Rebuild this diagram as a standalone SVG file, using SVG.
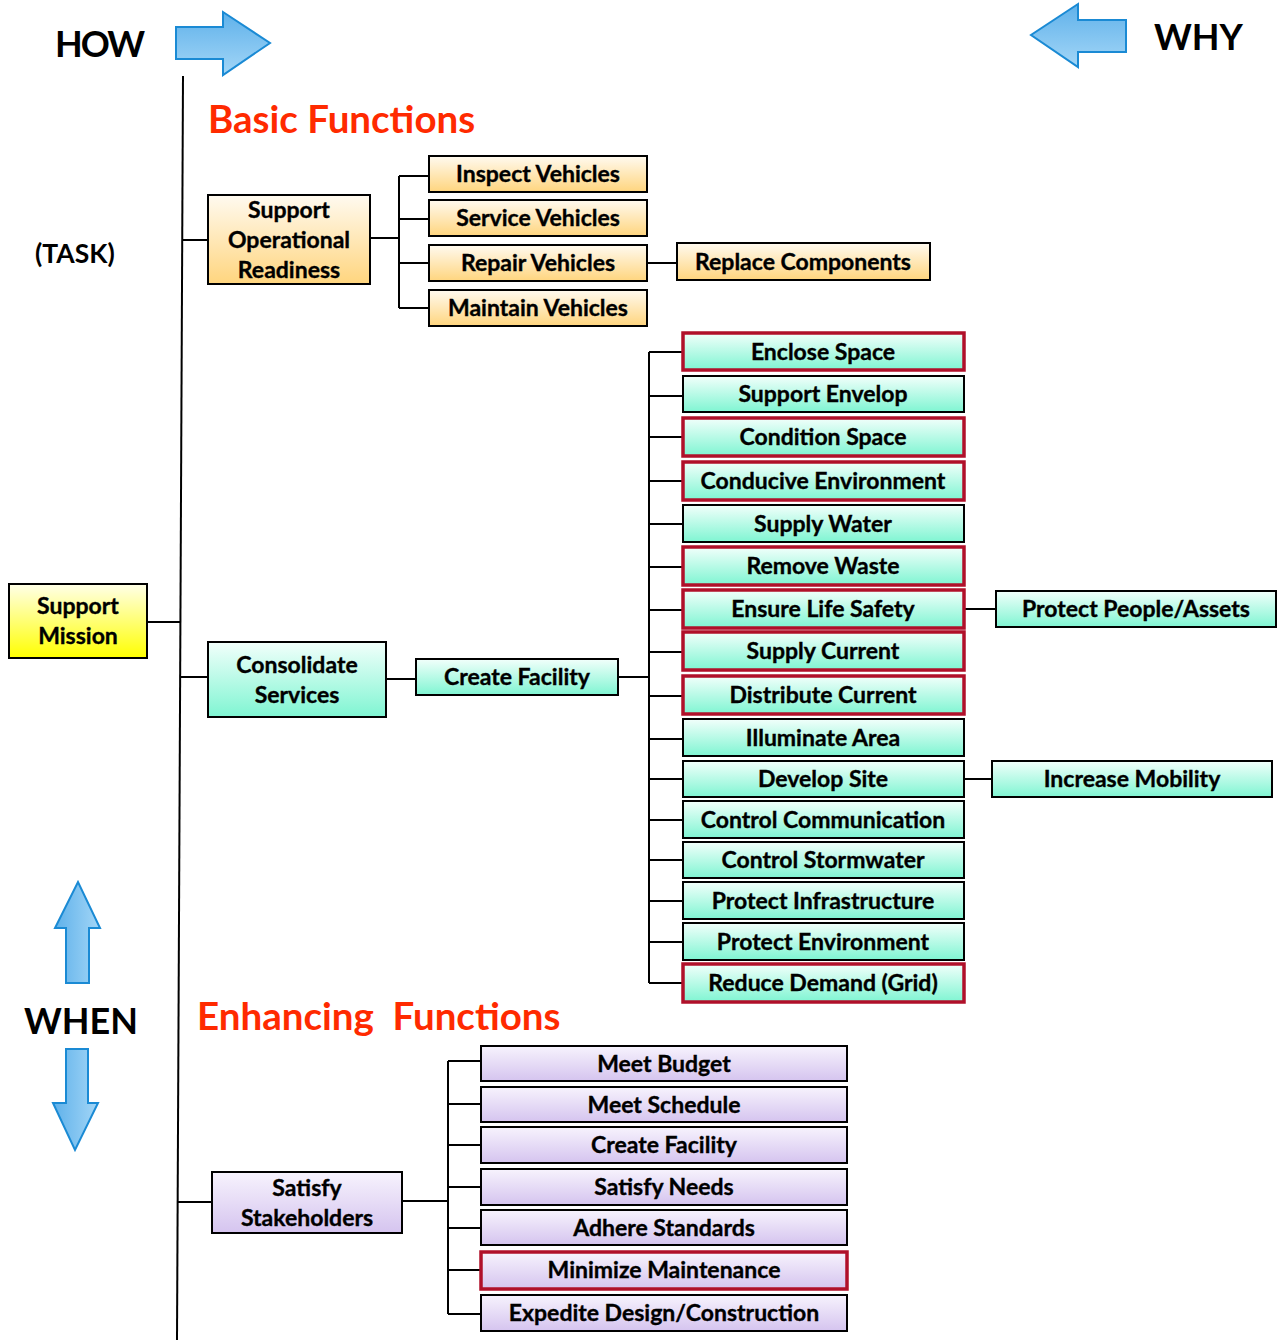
<svg xmlns="http://www.w3.org/2000/svg" width="1278" height="1340" viewBox="0 0 1278 1340">
<defs>
<linearGradient id="gOr" x1="0" y1="0" x2="0" y2="1"><stop offset="0" stop-color="#fffaf0"/><stop offset="1" stop-color="#ffd57e"/></linearGradient>
<linearGradient id="gGr" x1="0" y1="0" x2="0" y2="1"><stop offset="0" stop-color="#f2fffb"/><stop offset="1" stop-color="#7ff5d2"/></linearGradient>
<linearGradient id="gPu" x1="0" y1="0" x2="0" y2="1"><stop offset="0" stop-color="#f7f3fd"/><stop offset="1" stop-color="#d5c4ef"/></linearGradient>
<linearGradient id="gYe" x1="0" y1="0" x2="0" y2="1"><stop offset="0" stop-color="#ffffe8"/><stop offset="1" stop-color="#ffff00"/></linearGradient>
<linearGradient id="gBlH" x1="0" y1="0" x2="0" y2="1"><stop offset="0" stop-color="#5fb1ea"/><stop offset="1" stop-color="#a3d6f7"/></linearGradient>
<linearGradient id="gBlV" x1="0" y1="0" x2="1" y2="0"><stop offset="0" stop-color="#5fb1ea"/><stop offset="1" stop-color="#a3d6f7"/></linearGradient>
</defs>
<style>
text{font-family:Lato,"Open Sans","Liberation Sans",sans-serif;font-weight:bold;fill:#000}
.t{font-size:23px;text-anchor:middle;stroke:#000;stroke-width:0.35}
.big{font-size:36px}
.red{fill:#ff2a00;font-size:38.5px}
.b{stroke:#000;stroke-width:2}
.r{stroke:#b0102a;stroke-width:3.5}
.or{fill:url(#gOr)}
.gr{fill:url(#gGr)}
.pu{fill:url(#gPu)}
.ye{fill:url(#gYe)}
.arr{stroke:#1a8ad4;stroke-width:2}
.ln{stroke:#000;stroke-width:2;fill:none}
</style>

<g id="labels">
<text x="55" y="57" class="big" textLength="90">HOW</text>
<text x="1154" y="50" class="big">WHY</text>
<text x="35" y="263" style="font-size:26.5px">(TASK)</text>
<text x="24" y="1034" class="big">WHEN</text>
<text x="208" y="133" class="red">Basic Functions</text>
<text x="197" y="1030" class="red" xml:space="preserve">Enhancing  Functions</text>
</g>

<g id="arrows">
<path class="arr" fill="url(#gBlH)" d="M176,27 H223 V12 L270,43 L223,75 V59 H176 Z"/>
<path class="arr" fill="url(#gBlH)" d="M1126,20 H1078 V4 L1031,35 L1078,67 V52 H1126 Z"/>
<path class="arr" fill="url(#gBlV)" d="M66,983 V928 H55 L78,882 L100,928 H89 V983 Z"/>
<path class="arr" fill="url(#gBlV)" d="M66,1049 V1103 H53 L75,1150 L98,1103 H88 V1049 Z"/>
</g>

<g id="connectors">
<path class="ln" d="M183,76 L177,1340"/>
<path class="ln" d="M182,240 H208"/>
<path class="ln" d="M370,238 H399 M399,176 V308 M399,176 H429 M399,219 H429 M399,263 H429 M399,308 H429"/>
<path class="ln" d="M647,263 H677"/>
<path class="ln" d="M147,622 H180"/>
<path class="ln" d="M180,677 H208"/>
<path class="ln" d="M386,679 H416"/>
<path class="ln" d="M618,677 H649"/>
<path class="ln" d="M649,352 V983 M649,352 H683 M649,396 H683 M649,437 H683 M649,481 H683 M649,524 H683 M649,567 H683 M649,610 H683 M649,652 H683 M649,696 H683 M649,739 H683 M649,779 H683 M649,820 H683 M649,860 H683 M649,901 H683 M649,942 H683 M649,983 H683"/>
<path class="ln" d="M964,609 H996"/>
<path class="ln" d="M964,779 H992"/>
<path class="ln" d="M178,1202 H212"/>
<path class="ln" d="M402,1201 H448 M448,1061 V1314 M448,1061 H481 M448,1104 H481 M448,1145 H481 M448,1187 H481 M448,1228 H481 M448,1270 H481 M448,1314 H481"/>
</g>

<g id="n-support-mission"><rect x="9" y="584" width="138" height="74" class="ye b"/><text x="78" y="614" class="t">Support</text><text x="78" y="644" class="t">Mission</text></g>
<g id="n-sor"><rect x="208" y="195" width="162" height="89" class="or b"/><text x="289" y="218" class="t">Support</text><text x="289" y="248" class="t">Operational</text><text x="289" y="278" class="t">Readiness</text></g>
<g id="n-inspect"><rect x="429" y="156" width="218" height="36" class="or b"/><text x="538" y="182" class="t">Inspect Vehicles</text></g>
<g id="n-service"><rect x="429" y="200" width="218" height="36" class="or b"/><text x="538" y="226" class="t">Service Vehicles</text></g>
<g id="n-repair"><rect x="429" y="245" width="218" height="36" class="or b"/><text x="538" y="271" class="t">Repair Vehicles</text></g>
<g id="n-maintain"><rect x="429" y="290" width="218" height="36" class="or b"/><text x="538" y="316" class="t">Maintain Vehicles</text></g>
<g id="n-replace"><rect x="677" y="243" width="253" height="37" class="or b"/><text x="803" y="270" class="t">Replace Components</text></g>

<g id="n-consolidate"><rect x="208" y="642" width="178" height="75" class="gr b"/><text x="297" y="673" class="t">Consolidate</text><text x="297" y="703" class="t">Services</text></g>
<g id="n-create-facility"><rect x="416" y="659" width="202" height="36" class="gr b"/><text x="517" y="685" class="t">Create Facility</text></g>

<g id="n-enclose"><rect x="683" y="333" width="281" height="37" class="gr r"/><text x="823" y="360" class="t">Enclose Space</text></g>
<g id="n-envelop"><rect x="683" y="376" width="281" height="36" class="gr b"/><text x="823" y="402" class="t">Support Envelop</text></g>
<g id="n-condition"><rect x="683" y="418" width="281" height="38" class="gr r"/><text x="823" y="445" class="t">Condition Space</text></g>
<g id="n-conducive"><rect x="683" y="462" width="281" height="38" class="gr r"/><text x="823" y="489" class="t">Conducive Environment</text></g>
<g id="n-water"><rect x="683" y="505" width="281" height="37" class="gr b"/><text x="823" y="532" class="t">Supply Water</text></g>
<g id="n-waste"><rect x="683" y="547" width="281" height="38" class="gr r"/><text x="823" y="574" class="t">Remove Waste</text></g>
<g id="n-life"><rect x="683" y="590" width="281" height="38" class="gr r"/><text x="823" y="617" class="t">Ensure Life Safety</text></g>
<g id="n-supply-current"><rect x="683" y="632" width="281" height="38" class="gr r"/><text x="823" y="659" class="t">Supply Current</text></g>
<g id="n-distribute"><rect x="683" y="676" width="281" height="38" class="gr r"/><text x="823" y="703" class="t">Distribute Current</text></g>
<g id="n-illuminate"><rect x="683" y="719" width="281" height="37" class="gr b"/><text x="823" y="746" class="t">Illuminate Area</text></g>
<g id="n-develop"><rect x="683" y="761" width="281" height="36" class="gr b"/><text x="823" y="787" class="t">Develop Site</text></g>
<g id="n-communication"><rect x="683" y="801" width="281" height="37" class="gr b"/><text x="823" y="828" class="t">Control Communication</text></g>
<g id="n-stormwater"><rect x="683" y="842" width="281" height="36" class="gr b"/><text x="823" y="868" class="t">Control Stormwater</text></g>
<g id="n-infrastructure"><rect x="683" y="882" width="281" height="37" class="gr b"/><text x="823" y="909" class="t">Protect Infrastructure</text></g>
<g id="n-environment"><rect x="683" y="923" width="281" height="37" class="gr b"/><text x="823" y="950" class="t">Protect Environment</text></g>
<g id="n-reduce"><rect x="683" y="964" width="281" height="38" class="gr r"/><text x="823" y="991" class="t">Reduce Demand (Grid)</text></g>
<g id="n-people"><rect x="996" y="591" width="280" height="36" class="gr b"/><text x="1136" y="617" class="t">Protect People/Assets</text></g>
<g id="n-mobility"><rect x="992" y="761" width="280" height="36" class="gr b"/><text x="1132" y="787" class="t">Increase Mobility</text></g>

<g id="n-stakeholders"><rect x="212" y="1172" width="190" height="61" class="pu b"/><text x="307" y="1196" class="t">Satisfy</text><text x="307" y="1226" class="t">Stakeholders</text></g>
<g id="n-budget"><rect x="481" y="1046" width="366" height="35" class="pu b"/><text x="664" y="1072" class="t">Meet Budget</text></g>
<g id="n-schedule"><rect x="481" y="1087" width="366" height="35" class="pu b"/><text x="664" y="1113" class="t">Meet Schedule</text></g>
<g id="n-create-facility2"><rect x="481" y="1127" width="366" height="36" class="pu b"/><text x="664" y="1153" class="t">Create Facility</text></g>
<g id="n-needs"><rect x="481" y="1169" width="366" height="36" class="pu b"/><text x="664" y="1195" class="t">Satisfy Needs</text></g>
<g id="n-standards"><rect x="481" y="1210" width="366" height="35" class="pu b"/><text x="664" y="1236" class="t">Adhere Standards</text></g>
<g id="n-minimize"><rect x="481" y="1252" width="366" height="37" class="pu r"/><text x="664" y="1278" class="t">Minimize Maintenance</text></g>
<g id="n-expedite"><rect x="481" y="1295" width="366" height="36" class="pu b"/><text x="664" y="1321" class="t">Expedite Design/Construction</text></g>
</svg>
